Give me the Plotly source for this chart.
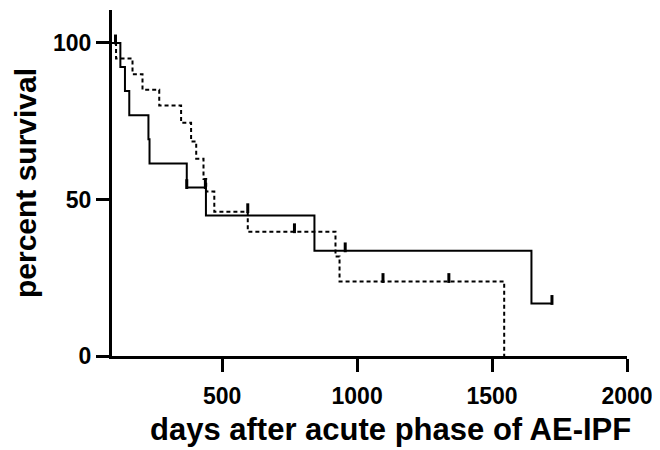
import plotly.graph_objects as go

# Group A (solid line)
times_a = [0, 123, 140, 156, 227, 231, 369, 440, 842, 1646, 1724]
surv_a = [100, 92.3, 84.6, 76.9, 69.2, 61.5, 53.8, 44.9, 33.6, 16.8, 16.8]
cens_t_a = [105, 369, 438, 956, 1722]
cens_s_a = [100, 53.8, 53.8, 33.6, 16.8]

# Group B (dotted line)
times_b = [0, 107, 168, 205, 267, 348, 385, 404, 431, 441, 471, 595, 920, 935, 1545]
surv_b = [100, 95, 90, 85, 80, 74.5, 68.5, 63, 56.5, 52.5, 46.1, 39.7, 31.8, 23.8, 0]
cens_t_b = [595, 768, 1096, 1340]
cens_s_b = [46.1, 39.7, 23.8, 23.8]

x_ticks = [500, 1000, 1500, 2000]
y_ticks = [0, 50, 100]
x_title = "days after acute phase of AE-IPF"
y_title = "percent survival"

FONT = "Liberation Sans, Arial, Helvetica, sans-serif"
tick_off = 1.1  # censor tick rises above the curve

fig = go.Figure()
fig.add_trace(go.Scatter(x=times_a, y=surv_a, mode="lines", line_shape="hv",
                         line=dict(color="black", width=2), showlegend=False))
fig.add_trace(go.Scatter(x=times_b, y=surv_b, mode="lines", line_shape="hv",
                         line=dict(color="black", width=2, dash="4px,3px"), showlegend=False))
fig.add_trace(go.Scatter(x=cens_t_a, y=[s + tick_off for s in cens_s_a], mode="markers",
                         marker=dict(symbol="line-ns", size=7, line=dict(color="black", width=3)),
                         showlegend=False))
fig.add_trace(go.Scatter(x=cens_t_b, y=[s + tick_off for s in cens_s_b], mode="markers",
                         marker=dict(symbol="line-ns", size=7, line=dict(color="black", width=3)),
                         showlegend=False))

axis_common = dict(showgrid=False, zeroline=False, showline=True, linecolor="black", linewidth=3,
                   ticks="outside", ticklen=13, tickwidth=3, tickcolor="black", automargin=False,
                   tickfont=dict(family=FONT, size=23, color="black"))

fig.update_xaxes(range=[92, 2000], tickvals=x_ticks, ticktext=[f"<b>{v}</b>" for v in x_ticks],
                 ticklabelstandoff=4, **axis_common)
fig.update_yaxes(range=[0, 110.5], tickvals=y_ticks, ticktext=[f"<b>{v}</b>" for v in y_ticks],
                 title=dict(text=f"<b>{y_title}</b>", standoff=8,
                            font=dict(family=FONT, size=30, color="black")),
                 **axis_common)

fig.add_annotation(text=f"<b>{x_title}</b>", xref="paper", yref="paper", x=0.54, y=0,
                   xanchor="center", yanchor="middle", yshift=-73, showarrow=False,
                   font=dict(family=FONT, size=31, color="black"))

# page body adds an 8px offset, so the figure is sized/margined to compensate
fig.update_layout(width=652, height=442, margin=dict(l=104, r=33, t=2, b=94),
                  plot_bgcolor="white", paper_bgcolor="white")

fig.write_html("out.html")
